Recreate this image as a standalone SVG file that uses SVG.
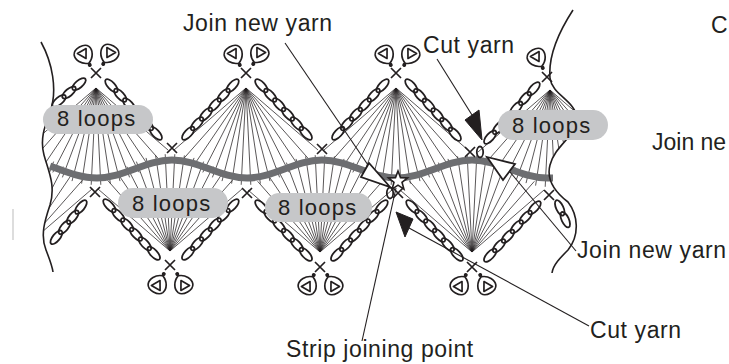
<svg xmlns="http://www.w3.org/2000/svg" xmlns:xlink="http://www.w3.org/1999/xlink" width="729" height="364" viewBox="0 0 729 364">
<style>
.fan{stroke:#231f20;stroke-width:0.75;fill:none}
.x{stroke:#231f20;stroke-width:1.7;fill:none}
.ch{stroke:#231f20;stroke-width:1.8;fill:none}
.edge{stroke:#231f20;stroke-width:1.6;fill:none}
.pill{fill:#c6c7c9}
.lbl{font-family:"Liberation Sans",Arial,sans-serif;font-size:23px;fill:#231f20;letter-spacing:0.6px}
.pt{font-family:"Liberation Sans",Arial,sans-serif;font-size:22px;fill:#231f20;letter-spacing:1.2px}
.lead{stroke:#231f20;stroke-width:1.1;fill:none}
</style>
<defs>
<clipPath id="strip"><path d="M41,42 C52,62 58,90 50,112 C44,128 40,140 44,155 C48,170 56,185 50,205 C45,220 40,235 46,250 C49,258 52,265 53,272 L552,273 C553,265 560,258 568,250 C580,235 578,215 568,202 C555,192 546,180 550,165 C555,145 578,135 577,118 C575,100 552,95 550,78 C548,55 560,30 573,10 Z"/></clipPath>
<path id="fan" class="fan" d="M0,0 L-72,62 M0,0 L-62.4,70.7 M0,0 L-52.8,78.2 M0,0 L-43.2,84.4 M0,0 L-33.6,89.4 M0,0 L-24,93.1 M0,0 L-14.4,95.6 M0,0 L-4.8,96.8 M0,0 L4.8,96.8 M0,0 L14.4,95.6 M0,0 L24,93.1 M0,0 L33.6,89.4 M0,0 L43.2,84.4 M0,0 L52.8,78.2 M0,0 L62.4,70.7 M0,0 L72,62"/>
<path id="xm" class="x" d="M-5,-5 L5,5 M5,-5 L-5,5"/>
<ellipse id="oh" class="ch" cx="0" cy="0" rx="3.2" ry="5.5"/>
<g id="ch2" class="ch"><ellipse cx="6.5" cy="0" rx="8.3" ry="3.6"/><ellipse cx="19.5" cy="0" rx="8.3" ry="3.6"/></g>
<g id="ch3" class="ch"><ellipse cx="6.5" cy="0" rx="8.3" ry="3.6"/><ellipse cx="19.5" cy="0" rx="8.3" ry="3.6"/><ellipse cx="32.5" cy="0" rx="8.3" ry="3.6"/></g>
<g id="ch4" class="ch"><ellipse cx="6.5" cy="0" rx="8.3" ry="3.6"/><ellipse cx="19.5" cy="0" rx="8.3" ry="3.6"/><ellipse cx="32.5" cy="0" rx="8.3" ry="3.6"/><ellipse cx="45.5" cy="0" rx="8.3" ry="3.6"/></g>
<g id="ch6" class="ch"><ellipse cx="6.5" cy="0" rx="8.3" ry="3.6"/><ellipse cx="19.5" cy="0" rx="8.3" ry="3.6"/><ellipse cx="32.5" cy="0" rx="8.3" ry="3.6"/><ellipse cx="45.5" cy="0" rx="8.3" ry="3.6"/><ellipse cx="58.5" cy="0" rx="8.3" ry="3.6"/><ellipse cx="71.5" cy="0" rx="8.3" ry="3.6"/></g>
<g id="petal">
<path d="M0,9.5 C-7,7 -10.5,0 -8.5,-5 C-6,-10.5 6,-10.5 8.5,-5 C10.5,0 7,7 0,9.5 Z M-5,-4.5 L5,-4.5 L0,4 Z" fill="none" stroke="#231f20" stroke-width="1.7" stroke-linejoin="round"/>
<circle cx="0" cy="11.5" r="2" fill="#231f20"/>
</g>
</defs>

<g id="fans" clip-path="url(#strip)">
<use xlink:href="#fan" transform="translate(96,88)"/>
<use xlink:href="#fan" transform="translate(246,88)"/>
<use xlink:href="#fan" transform="translate(396,88)"/>
<use xlink:href="#fan" transform="translate(550,90)"/>
<use xlink:href="#fan" transform="translate(20,251) scale(1,-1)"/>
<use xlink:href="#fan" transform="translate(170,251) scale(1,-1)"/>
<use xlink:href="#fan" transform="translate(320,252) scale(1,-1)"/>
<use xlink:href="#fan" transform="translate(472,252) scale(1,-1)"/>
</g>

<path id="wave" d="M50,166 C64,171 80,178 97,178 C124,178 145,160 172,160 C199,160 220,178 247,178 C274,178 295,160 322,160 C349,160 370,178 397,178 C424,178 445,160 472,160 C499,160 520,178 547,178 L553,178" stroke="#6d6e71" stroke-width="7" fill="none"/>

<g id="edges">
<path class="edge" d="M41,42 C52,62 58,90 50,112 C44,128 40,140 44,155 C48,170 56,185 50,205 C45,220 40,235 46,250 C49,258 52,265 53,272"/>
<path class="edge" d="M573,10 C560,30 548,55 550,78 C552,95 575,100 577,118 C578,135 555,145 550,165 C546,180 555,192 568,202 C578,215 580,235 568,250 C560,258 553,265 552,273"/>
</g>

<g id="chains">
<use xlink:href="#ch6" transform="translate(107,81) rotate(47)"/>
<use xlink:href="#ch6" transform="translate(237,81) rotate(133)"/>
<use xlink:href="#ch6" transform="translate(257,81) rotate(47)"/>
<use xlink:href="#ch6" transform="translate(387,81) rotate(133)"/>
<use xlink:href="#ch6" transform="translate(407,81) rotate(48)"/>
<use xlink:href="#ch6" transform="translate(538,84) rotate(132)"/>
<use xlink:href="#ch3" transform="translate(84,80) rotate(140)"/>
<use xlink:href="#ch6" transform="translate(105,201) rotate(47)"/>
<use xlink:href="#ch6" transform="translate(237,201) rotate(133)"/>
<use xlink:href="#ch6" transform="translate(257,202) rotate(47)"/>
<use xlink:href="#ch6" transform="translate(386,202) rotate(133)"/>
<use xlink:href="#ch6" transform="translate(408,202) rotate(47)"/>
<use xlink:href="#ch6" transform="translate(539,203) rotate(133)"/>
<use xlink:href="#ch4" transform="translate(85,202) rotate(129)"/>
<use xlink:href="#ch2" transform="translate(557,202) rotate(65)"/>
</g>

<g id="stitches">
<use xlink:href="#xm" x="96" y="73"/>
<use xlink:href="#xm" x="246" y="73"/>
<use xlink:href="#xm" x="396" y="73"/>
<use xlink:href="#xm" x="547" y="77"/>
<use xlink:href="#xm" x="172" y="148"/>
<use xlink:href="#xm" x="322" y="149"/>
<use xlink:href="#xm" x="470" y="152"/>
<use xlink:href="#xm" x="95" y="192"/>
<use xlink:href="#xm" x="247" y="193"/>
<use xlink:href="#xm" x="398" y="193"/>
<use xlink:href="#xm" x="549" y="195"/>
<use xlink:href="#xm" x="170" y="265"/>
<use xlink:href="#xm" x="320" y="267"/>
<use xlink:href="#xm" x="472" y="267"/>
<use xlink:href="#oh" x="390" y="193"/>
<use xlink:href="#oh" x="480" y="152"/>
</g>

<g id="petals">
<use xlink:href="#petal" transform="translate(84,55) rotate(-30)"/>
<use xlink:href="#petal" transform="translate(109,54) rotate(30)"/>
<use xlink:href="#petal" transform="translate(234,55) rotate(-30)"/>
<use xlink:href="#petal" transform="translate(259,54) rotate(30)"/>
<use xlink:href="#petal" transform="translate(385,55) rotate(-30)"/>
<use xlink:href="#petal" transform="translate(410,55) rotate(30)"/>
<use xlink:href="#petal" transform="translate(537,58) rotate(-30)"/>
<use xlink:href="#petal" transform="translate(158,284) rotate(-150)"/>
<use xlink:href="#petal" transform="translate(183,284) rotate(150)"/>
<use xlink:href="#petal" transform="translate(308,285) rotate(-150)"/>
<use xlink:href="#petal" transform="translate(333,285) rotate(150)"/>
<use xlink:href="#petal" transform="translate(460,285) rotate(-150)"/>
<use xlink:href="#petal" transform="translate(486,285) rotate(150)"/>
</g>

<polygon id="star" points="398,171 400.5,177.6 407.5,177.9 402,182.3 403.9,189.1 398,185.2 392.1,189.1 394,182.3 388.5,177.9 395.5,177.6" fill="#fff" stroke="#231f20" stroke-width="1.6" stroke-linejoin="miter"/>

<g id="loops-labels">
<g id="loops1"><rect class="pill" x="43" y="105" width="110" height="29" rx="14.5"/><text class="pt" x="57" y="126">8 loops</text></g>
<g id="loops2"><rect class="pill" x="118" y="188" width="110" height="30" rx="15"/><text class="pt" x="132" y="211">8 loops</text></g>
<g id="loops3"><rect class="pill" x="265" y="193" width="107" height="29" rx="14.5"/><text class="pt" x="278" y="215">8 loops</text></g>
<g id="loops4"><rect class="pill" x="498" y="110" width="110" height="30" rx="15"/><text class="pt" x="512" y="133">8 loops</text></g>
</g>

<g id="connectors">
<line class="lead" x1="285" y1="43" x2="368" y2="165"/>
<line class="lead" x1="437" y1="59" x2="472" y2="115"/>
<line class="lead" x1="510" y1="172" x2="576" y2="251"/>
<line class="lead" x1="409" y1="228" x2="589" y2="326"/>
<line class="lead" x1="396" y1="188" x2="362" y2="341"/>
<polygon points="369,163 361,177 390,187" fill="#fff" stroke="#231f20" stroke-width="1.8" stroke-linejoin="miter"/>
<polygon points="487,157 515,164 503,180" fill="#fff" stroke="#231f20" stroke-width="1.8" stroke-linejoin="miter"/>
<polygon points="465,120 479,110 482,140" fill="#231f20" stroke="#231f20" stroke-width="1"/>
<polygon points="396,212 413,219 405,237" fill="#231f20" stroke="#231f20" stroke-width="1"/>
</g>

<g id="label-join-top"><text class="lbl" x="183" y="31">Join new yarn</text></g>
<g id="label-cut-top"><text class="lbl" x="423" y="53">Cut yarn</text></g>
<g id="label-join-right"><text class="lbl" x="577" y="258">Join new yarn</text></g>
<g id="label-cut-bottom"><text class="lbl" x="590" y="338">Cut yarn</text></g>
<g id="label-strip"><text class="lbl" x="286" y="357">Strip joining point</text></g>
<g id="label-partial1"><text class="lbl" x="711" y="33" style="letter-spacing:0">C</text></g>
<g id="label-partial2"><text class="lbl" x="652" y="150" style="letter-spacing:0">Join ne</text></g>
<line id="margin-mark" x1="13" y1="209" x2="13" y2="240" stroke="#d2d2d2" stroke-width="1.5"/>
</svg>
